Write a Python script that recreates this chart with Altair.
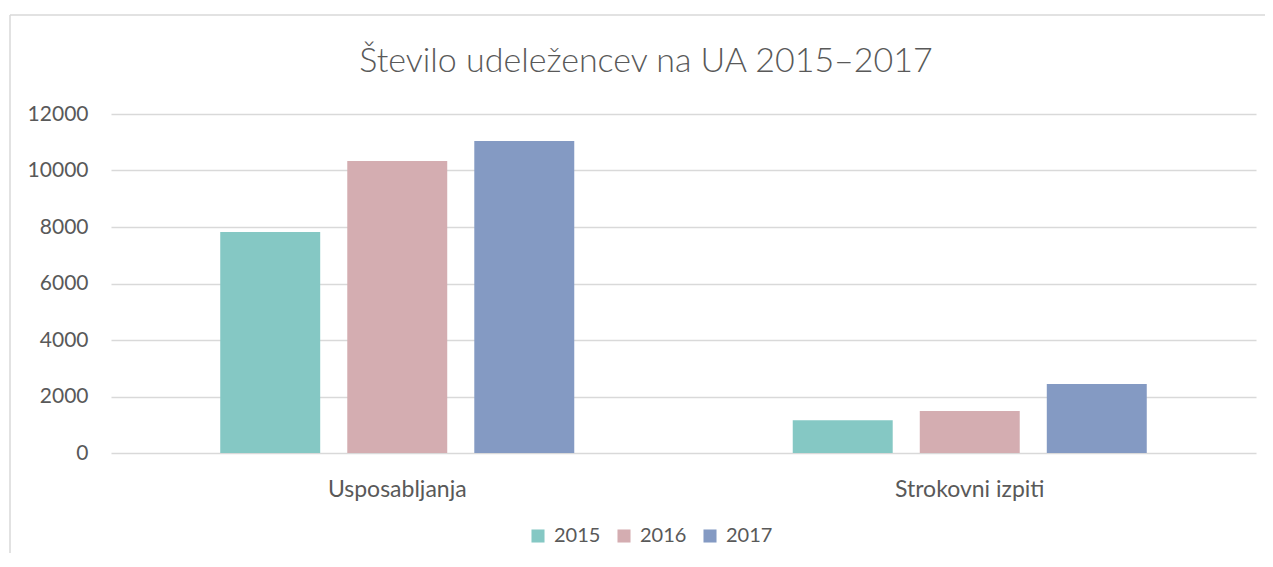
import altair as alt
import pandas as pd

categories = ["Usposabljanja", "Strokovni izpiti"]
years = ["2015", "2016", "2017"]
values_2015 = [7820, 1160]
values_2016 = [10340, 1490]
values_2017 = [11040, 2440]
colors = ["#85C8C4", "#D4ADB1", "#849AC3"]
y_ticks = [0, 2000, 4000, 6000, 8000, 10000, 12000]
title_text = "Število udeležencev na UA 2015–2017"

rows = []
for yr, vals in zip(years, [values_2015, values_2016, values_2017]):
    for c, v in zip(categories, vals):
        rows.append({"cat": c, "year": yr, "value": v})
df = pd.DataFrame(rows)

font = "Lato"
grey = "#595959"

bars = alt.Chart(df).mark_bar().encode(
    x=alt.X("cat:N", sort=categories, title=None,
            scale=alt.Scale(paddingInner=0, paddingOuter=0),
            axis=alt.Axis(labelAngle=0, labelFontSize=23, labelColor=grey, labelFont=font,
                          ticks=False, domain=False, labelPadding=25)),
    xOffset=alt.XOffset("year:N", sort=years,
                        scale=alt.Scale(paddingInner=0.213, paddingOuter=0.86)),
    y=alt.Y("value:Q", title=None,
            scale=alt.Scale(domain=[0, 12000], nice=False),
            axis=alt.Axis(values=y_ticks, format="d", labelFontSize=21, labelColor=grey,
                          labelFont=font, ticks=False, domain=False, labelPadding=23,
                          gridColor="#D9D9D9", gridWidth=1.3)),
    color=alt.Color("year:N", sort=years,
                    scale=alt.Scale(domain=years, range=colors),
                    legend=alt.Legend(title=None, orient="none", direction="horizontal",
                                      legendX=417, legendY=412, symbolType="square",
                                      symbolSize=170, symbolStrokeWidth=0,
                                      labelFontSize=20, labelColor=grey, labelFont=font,
                                      columnPadding=13, labelOffset=6)),
)

frame = alt.Data(values=[{"t": title_text}])
top_border = alt.Chart(frame).mark_rule(color="#D9D9D9", strokeWidth=1.5).encode(
    x=alt.value(-101), x2=alt.value(1200), y=alt.value(-99))
left_border = alt.Chart(frame).mark_rule(color="#D9D9D9", strokeWidth=1.5).encode(
    x=alt.value(-101), y=alt.value(-99), y2=alt.value(500))
title = alt.Chart(frame).mark_text(
    font=font, fontSize=34, fontWeight=300, color=grey, align="center", baseline="middle"
).encode(text="t:N", x=alt.value(535), y=alt.value(-52))

chart = alt.layer(top_border, left_border, title, bars).properties(
    width=1145, height=339,
    autosize=alt.AutoSizeParams(type="none"),
    padding={"left": 103, "top": 106, "right": 9, "bottom": 100},
).configure_view(stroke=None)

chart.save("out.html", embed_options={"renderer": "svg", "actions": False})
